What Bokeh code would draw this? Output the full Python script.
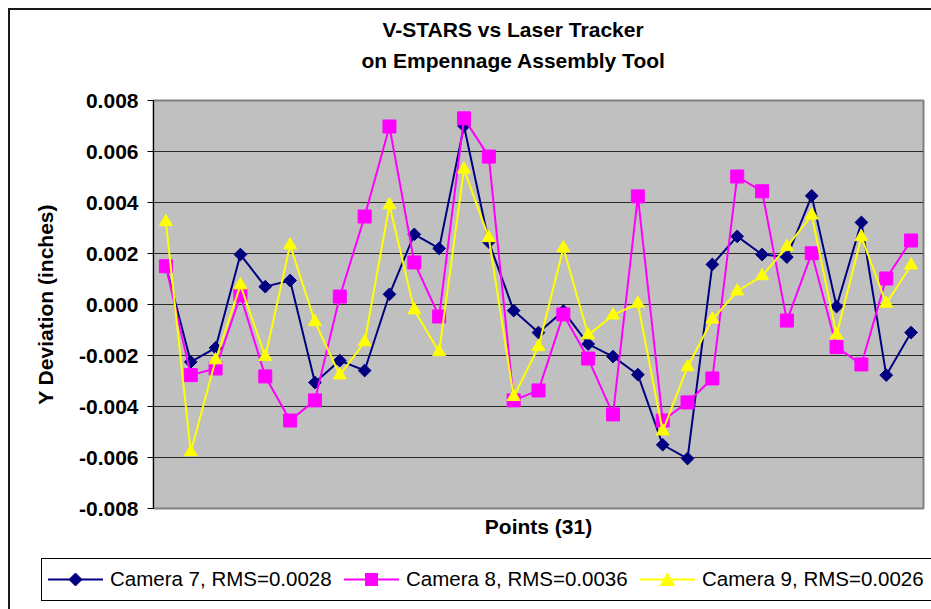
import math
from bokeh.plotting import figure
from bokeh.layouts import column
from bokeh.models import (Range1d, FixedTicker, NumeralTickFormatter, Title,
                          ColumnDataSource, Div)
from bokeh.embed import file_html
from bokeh.resources import INLINE

# ---- data ----
points = list(range(1, 32))
cam7 = [0.0015, -0.00225, -0.0017, 0.00196, 0.0007, 0.00094, -0.00306, -0.0022,
        -0.00259, 0.0004, 0.00275, 0.0022, 0.0070, 0.00245, -0.00024, -0.0011,
        -0.00026, -0.00155, -0.00204, -0.00275, -0.0055, -0.00604, 0.00157,
        0.00267, 0.00196, 0.00186, 0.00426, -0.00008, 0.00322, -0.00277, -0.0011]
cam8 = [0.0015, -0.00277, -0.00251, 0.00036, -0.00282, -0.00455, -0.00376,
        0.00031, 0.00345, 0.00698, 0.00165, -0.00047, 0.0073, 0.0058, -0.00376,
        -0.00337, -0.00039, -0.00212, -0.00431, 0.00424, -0.00455, -0.00384,
        -0.0029, 0.00502, 0.00444, -0.00063, 0.00201, -0.00167, -0.00235,
        0.00102, 0.00251]
cam9 = [0.00324, -0.00578, -0.00218, 0.00076, -0.00205, 0.00233, -0.00068,
        -0.00277, -0.00147, 0.0039, -0.00022, -0.00186, 0.0053, 0.00261,
        -0.00362, -0.00166, 0.00222, -0.0012, -0.00042, 0.00004, -0.00497,
        -0.00245, -0.00058, 0.00052, 0.00112, 0.00226, 0.0035, -0.0012,
        0.00265, 0.00004, 0.00154]
series_labels = ["Camera 7, RMS=0.0028", "Camera 8, RMS=0.0036", "Camera 9, RMS=0.0026"]
series_colors = ["#000080", "#FF00FF", "#FFFF00"]
series_markers = ["diamond", "square", "triangle"]
y_ticks = [-0.008, -0.006, -0.004, -0.002, 0.0, 0.002, 0.004, 0.006, 0.008]
title_lines = ["V-STARS vs Laser Tracker", "on Empennage Assembly Tool"]
x_label = "Points (31)"
y_label = "Y Deviation (inches)"

FONT = "Liberation Sans"
EDGE = "#1a1a1a"
MAIN_H = 549
LEG_H = 60

fig = figure(width=931, height=MAIN_H, output_backend="svg", toolbar_location=None,
             title=None,
             x_range=Range1d(0.5, 31.5), y_range=Range1d(-0.008, 0.008),
             min_border_left=153, min_border_right=8, min_border_top=100,
             min_border_bottom=41)

fig.background_fill_color = "#C0C0C0"
fig.border_fill_color = None
fig.outline_line_color = "#808080"
fig.outline_line_width = 2
fig.styles = {"background": (f"linear-gradient({EDGE},{EDGE}) 8px 8px / 2px {MAIN_H}px no-repeat, "
                             f"linear-gradient({EDGE},{EDGE}) 8px 8px / 923px 2px no-repeat, white")}

# grid
fig.xgrid.grid_line_color = None
fig.ygrid.grid_line_color = "#2a2a2a"
fig.ygrid.grid_line_width = 1

# y axis
fig.yaxis.ticker = FixedTicker(ticks=y_ticks)
fig.yaxis.formatter = NumeralTickFormatter(format="0.000")
fig.yaxis.major_label_text_font = FONT
fig.yaxis.major_label_text_font_style = "bold"
fig.yaxis.major_label_text_font_size = "21px"
fig.yaxis.major_label_text_color = "black"
fig.yaxis.major_label_standoff = 9
fig.yaxis.major_tick_out = 6
fig.yaxis.major_tick_in = 0
fig.yaxis.minor_tick_out = 0
fig.yaxis.minor_tick_in = 0
fig.yaxis.axis_line_color = "black"
fig.yaxis.major_tick_line_color = "black"
fig.yaxis.axis_label = y_label
fig.yaxis.axis_label_text_font = FONT
fig.yaxis.axis_label_text_font_style = "bold"
fig.yaxis.axis_label_text_font_size = "21px"
fig.yaxis.axis_label_text_color = "black"
fig.yaxis.axis_label_standoff = 19

# x axis
fig.xaxis.ticker = FixedTicker(ticks=[])
fig.xaxis.major_tick_out = 0
fig.xaxis.major_tick_in = 0
fig.xaxis.minor_tick_out = 0
fig.xaxis.minor_tick_in = 0
fig.xaxis.major_label_standoff = 0
fig.xaxis.major_label_text_font_size = "0px"
fig.xaxis.axis_line_color = None
fig.xaxis.axis_label = x_label
fig.xaxis.axis_label_text_font = FONT
fig.xaxis.axis_label_text_font_style = "bold"
fig.xaxis.axis_label_text_font_size = "21px"
fig.xaxis.axis_label_text_color = "black"
fig.xaxis.axis_label_standoff = 6

src = ColumnDataSource(dict(x=points, c7=cam7, c8=cam8, c9=cam9))

fig.line("x", "c7", source=src, line_color=series_colors[0], line_width=2)
fig.scatter("x", "c7", source=src, marker="square", angle=math.pi / 4, size=9,
            fill_color=series_colors[0], line_color=series_colors[0])
fig.line("x", "c8", source=src, line_color=series_colors[1], line_width=2)
fig.scatter("x", "c8", source=src, marker="square", size=13,
            fill_color=series_colors[1], line_color=series_colors[1])
fig.line("x", "c9", source=src, line_color=series_colors[2], line_width=2)
fig.scatter("x", "c9", source=src, marker="triangle", size=13,
            fill_color=series_colors[2], line_color=series_colors[2])

# titles stacked above the frame: spacer (closest), line 2, line 1 (outermost)
fig.add_layout(Title(text=".", text_color="white", text_font_size="10px", standoff=17), "above")
fig.add_layout(Title(text=title_lines[1], align="left", offset=208, standoff=4,
                     text_font=FONT, text_font_style="bold", text_font_size="21px",
                     text_color="black"), "above")
fig.add_layout(Title(text=title_lines[0], align="left", offset=229, standoff=8,
                     text_font=FONT, text_font_style="bold", text_font_size="21px",
                     text_color="black"), "above")


# ---- legend strip below the chart (HTML, so it may run past the plot frame) ----
def marker_svg(kind, color):
    c = 27.5
    if kind == "diamond":
        shape = (f'<polygon points="{c},4 {c+6.5},10.5 {c},17 {c-6.5},10.5" '
                 f'fill="{color}" stroke="{color}"/>')
    elif kind == "square":
        shape = f'<rect x="{c-6.5}" y="4" width="13" height="13" fill="{color}"/>'
    else:
        shape = (f'<polygon points="{c},4 {c+7},16.5 {c-7},16.5" '
                 f'fill="{color}" stroke="{color}"/>')
    return (f'<svg width="55" height="21" style="display:block">'
            f'<line x1="0" y1="10.5" x2="55" y2="10.5" stroke="{color}" stroke-width="2"/>'
            f'{shape}</svg>')


items_html = ""
for i, (lab, col, mk) in enumerate(zip(series_labels, series_colors, series_markers)):
    left = 6 + i * 296
    items_html += (f'<div style="position:absolute;left:{left}px;top:0;height:41px;'
                   f'display:flex;align-items:center;white-space:nowrap">'
                   f'{marker_svg(mk, col)}'
                   f'<span style="margin-left:7px;font-family:\'{FONT}\';font-size:20.5px;'
                   f'color:black;line-height:1">{lab}</span></div>')

legend_html = (f'<div style="position:relative;width:931px;height:{LEG_H}px;overflow:hidden">'
               f'<div style="position:absolute;left:8px;top:0;width:2px;height:{LEG_H}px;'
               f'background:{EDGE}"></div>'
               f'<div style="position:absolute;left:41px;top:9px;width:900px;height:43px;'
               f'border:1px solid black;box-sizing:border-box;background:white">'
               f'{items_html}</div></div>')

leg = Div(text=legend_html, width=931, height=LEG_H,
          styles={"margin": "0", "padding": "0", "background": "white"})

p = column(fig, leg, spacing=0)

open("out.html", "w").write(file_html(p, INLINE))
